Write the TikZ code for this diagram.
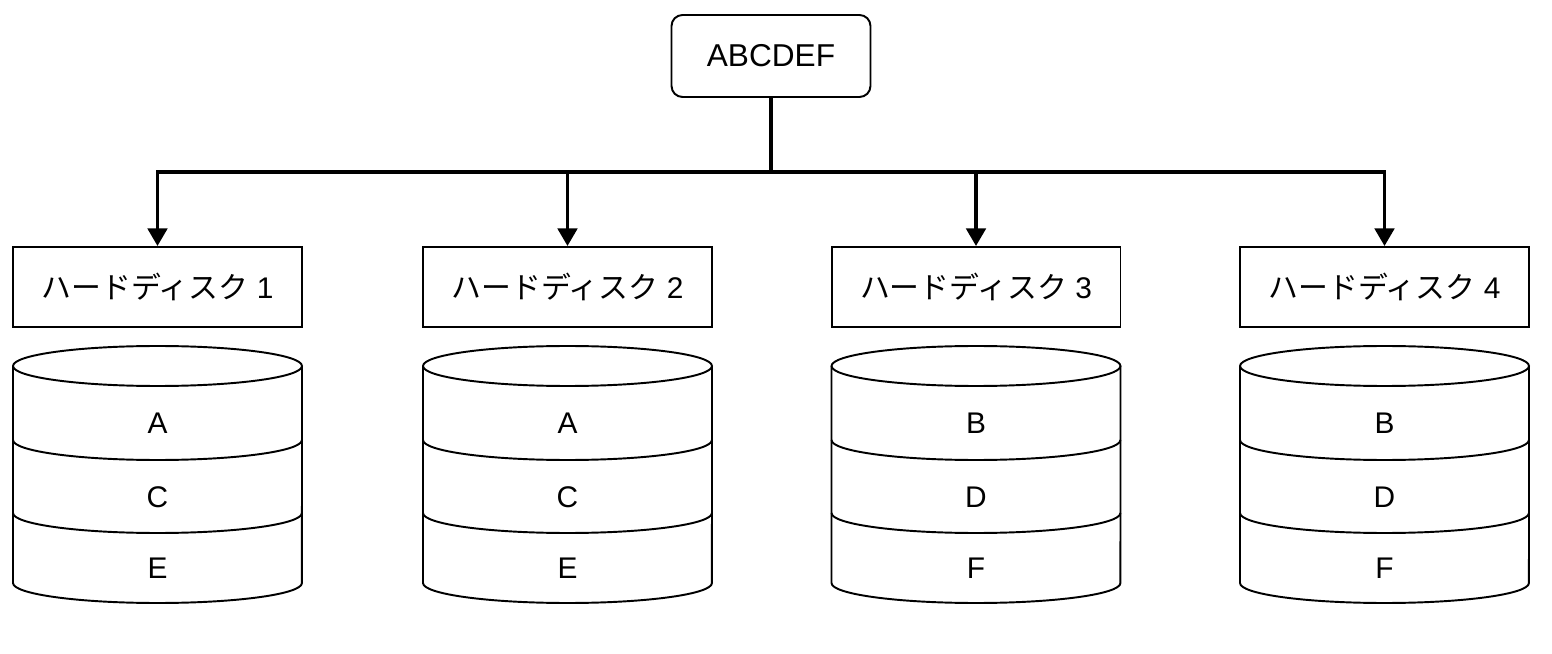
\documentclass[tikz,border=0pt]{standalone}
\usepackage{fontspec}
\setmainfont{Liberation Sans}
\newfontfamily\jp{Noto Sans CJK JP}
\usetikzlibrary{arrows.meta}

\tikzset{
	diskbox/.style={draw, line width=1.1pt, minimum width=5.78cm, minimum height=1.6cm, font=\fontsize{17}{19}\selectfont},
	topbox/.style={draw, line width=1.1pt, rounded corners=0.22cm, minimum width=3.98cm, minimum height=1.64cm, font=\fontsize{18}{20}\selectfont},
	part/.style={font=\fontsize{17}{19}\selectfont},
	link/.style={line width=2.1pt},
	cyl/.style={line width=1.1pt}
}

\begin{document}
\begin{tikzpicture}[x=0.02cm, y=0.02cm]
	\def \rx{ 2.89cm };
	\def \ry{ 0.4cm };
	\useasboundingbox (0,0) rectangle (1552,653);

	\node[topbox] (top) at (771,597) {ABCDEF};
	\coordinate (j) at (771,481);

	\node[diskbox] (d1) at (157.5,366) {{\jp ハードディスク} 1};
	\node[diskbox] (d2) at (567.5,366) {{\jp ハードディスク} 2};
	\node[diskbox] (d3) at (976,366) {{\jp ハードディスク} 3};
	\node[diskbox] (d4) at (1384.5,366) {{\jp ハードディスク} 4};

	\draw[link] (top.south) -- (j);
	\draw[link, -{Triangle[width=11pt, length=10pt]}] (j) -| (d1.north);
	\draw[link, -{Triangle[width=11pt, length=10pt]}] (j) -| (d2.north);
	\draw[link, -{Triangle[width=11pt, length=10pt]}] (j) -| (d3.north);
	\draw[link, -{Triangle[width=11pt, length=10pt]}] (j) -| (d4.north);

	% disk 1
	\draw[cyl] (157.5,287) ellipse [x radius=\rx, y radius=\ry];
	\draw[cyl] (13,287) -- (13,70) arc[start angle=180, end angle=360, x radius=\rx, y radius=\ry] -- (302,287);
	\draw[cyl] (13,213) arc[start angle=180, end angle=360, x radius=\rx, y radius=\ry];
	\draw[cyl] (13,140) arc[start angle=180, end angle=360, x radius=\rx, y radius=\ry];
	\node[part] (a1) at (157.5,230) {A};
	\node[part] (c1) at (157.5,156) {C};
	\node[part] (e1) at (157.5,85) {E};

	% disk 2
	\draw[cyl] (567.5,287) ellipse [x radius=\rx, y radius=\ry];
	\draw[cyl] (423,287) -- (423,70) arc[start angle=180, end angle=360, x radius=\rx, y radius=\ry] -- (712,287);
	\draw[cyl] (423,213) arc[start angle=180, end angle=360, x radius=\rx, y radius=\ry];
	\draw[cyl] (423,140) arc[start angle=180, end angle=360, x radius=\rx, y radius=\ry];
	\node[part] (a2) at (567.5,230) {A};
	\node[part] (c2) at (567.5,156) {C};
	\node[part] (e2) at (567.5,85) {E};

	% disk 3
	\draw[cyl] (976,287) ellipse [x radius=\rx, y radius=\ry];
	\draw[cyl] (831.5,287) -- (831.5,70) arc[start angle=180, end angle=360, x radius=\rx, y radius=\ry] -- (1120.5,287);
	\draw[cyl] (831.5,213) arc[start angle=180, end angle=360, x radius=\rx, y radius=\ry];
	\draw[cyl] (831.5,140) arc[start angle=180, end angle=360, x radius=\rx, y radius=\ry];
	\node[part] (b3) at (976,230) {B};
	\node[part] (d3p) at (976,156) {D};
	\node[part] (f3) at (976,85) {F};

	% disk 4
	\draw[cyl] (1384.5,287) ellipse [x radius=\rx, y radius=\ry];
	\draw[cyl] (1240,287) -- (1240,70) arc[start angle=180, end angle=360, x radius=\rx, y radius=\ry] -- (1529,287);
	\draw[cyl] (1240,213) arc[start angle=180, end angle=360, x radius=\rx, y radius=\ry];
	\draw[cyl] (1240,140) arc[start angle=180, end angle=360, x radius=\rx, y radius=\ry];
	\node[part] (b4) at (1384.5,230) {B};
	\node[part] (d4p) at (1384.5,156) {D};
	\node[part] (f4) at (1384.5,85) {F};
\end{tikzpicture}
\end{document}
